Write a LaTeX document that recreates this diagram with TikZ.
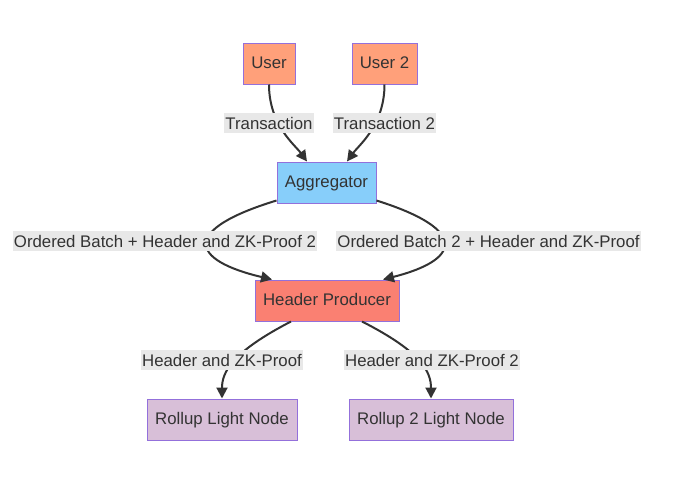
\documentclass[tikz,border=0pt]{standalone}
\usepackage{fontspec}
\setmainfont{Liberation Sans}
\usetikzlibrary{arrows.meta}
\definecolor{txt}{HTML}{333333}
\definecolor{bord}{HTML}{9370DB}
\definecolor{usercol}{HTML}{FFA07A}
\definecolor{aggcol}{HTML}{87CEFA}
\definecolor{hpcol}{HTML}{FA8072}
\definecolor{rlcol}{HTML}{D8BFD8}
\definecolor{lblcol}{HTML}{E8E8E8}
\tikzset{
  box/.style={draw=bord, line width=1pt, minimum height=41pt, inner sep=0pt, text=txt,
    text height=12pt, text depth=3pt,
    font=\fontsize{16.8}{20}\selectfont},
  lbl/.style={fill=lblcol, inner xsep=1pt, inner ysep=3pt, text=txt,
    text height=13pt, text depth=1pt,
    font=\fontsize{16.8}{20}\selectfont},
  conn/.style={draw=txt, line width=2pt, -{Triangle[length=11pt,width=11pt]}},
}
\begin{document}
\begin{tikzpicture}[x=1pt,y=-1pt]
\useasboundingbox (0,0) rectangle (680,480);
\node[box, fill=usercol, minimum width=52pt] (user) at (269,63.5) {User};
\node[box, fill=usercol, minimum width=65pt] (user2) at (384.5,63.5) {User 2};
\node[box, fill=aggcol, minimum width=99pt] (agg) at (326.5,182.5) {Aggregator};
\node[box, fill=hpcol, minimum width=144pt] (hp) at (327,300.5) {Header Producer};
\node[box, fill=rlcol, minimum width=150pt] (rl) at (222,419.5) {Rollup Light Node};
\node[box, fill=rlcol, minimum width=164pt] (rl2) at (431,419.5) {Rollup 2 Light Node};

\draw[conn] (user.south) .. controls (269,125) and (295,145) .. ([xshift=-19.5pt]agg.north);
\draw[conn] (user2.south) .. controls (384.5,125) and (359,145) .. ([xshift=20.5pt]agg.north);
\draw[conn] ([yshift=3pt]agg.south west) .. controls (180,230) and (190,260) .. ([xshift=-55pt]hp.north);
\draw[conn] ([yshift=3pt]agg.south east) .. controls (470,230) and (460,260) .. ([xshift=56pt]hp.north);
\draw[conn] ([xshift=-36pt]hp.south) .. controls (232,352) and (222,372) .. (rl.north);
\draw[conn] ([xshift=35pt]hp.south) .. controls (422,352) and (431,372) .. (rl2.north);

\node[lbl] (l1) at (269,123) {Transaction};
\node[lbl] (l2) at (384.5,123) {Transaction 2};
\node[lbl] (l3) at (165,241) {Ordered Batch + Header and ZK-Proof 2};
\node[lbl] (l4) at (488.5,241) {Ordered Batch 2 + Header and ZK-Proof};
\node[lbl] (l5) at (222,360) {Header and ZK-Proof};
\node[lbl] (l6) at (432,360) {Header and ZK-Proof 2};
\end{tikzpicture}
\end{document}
